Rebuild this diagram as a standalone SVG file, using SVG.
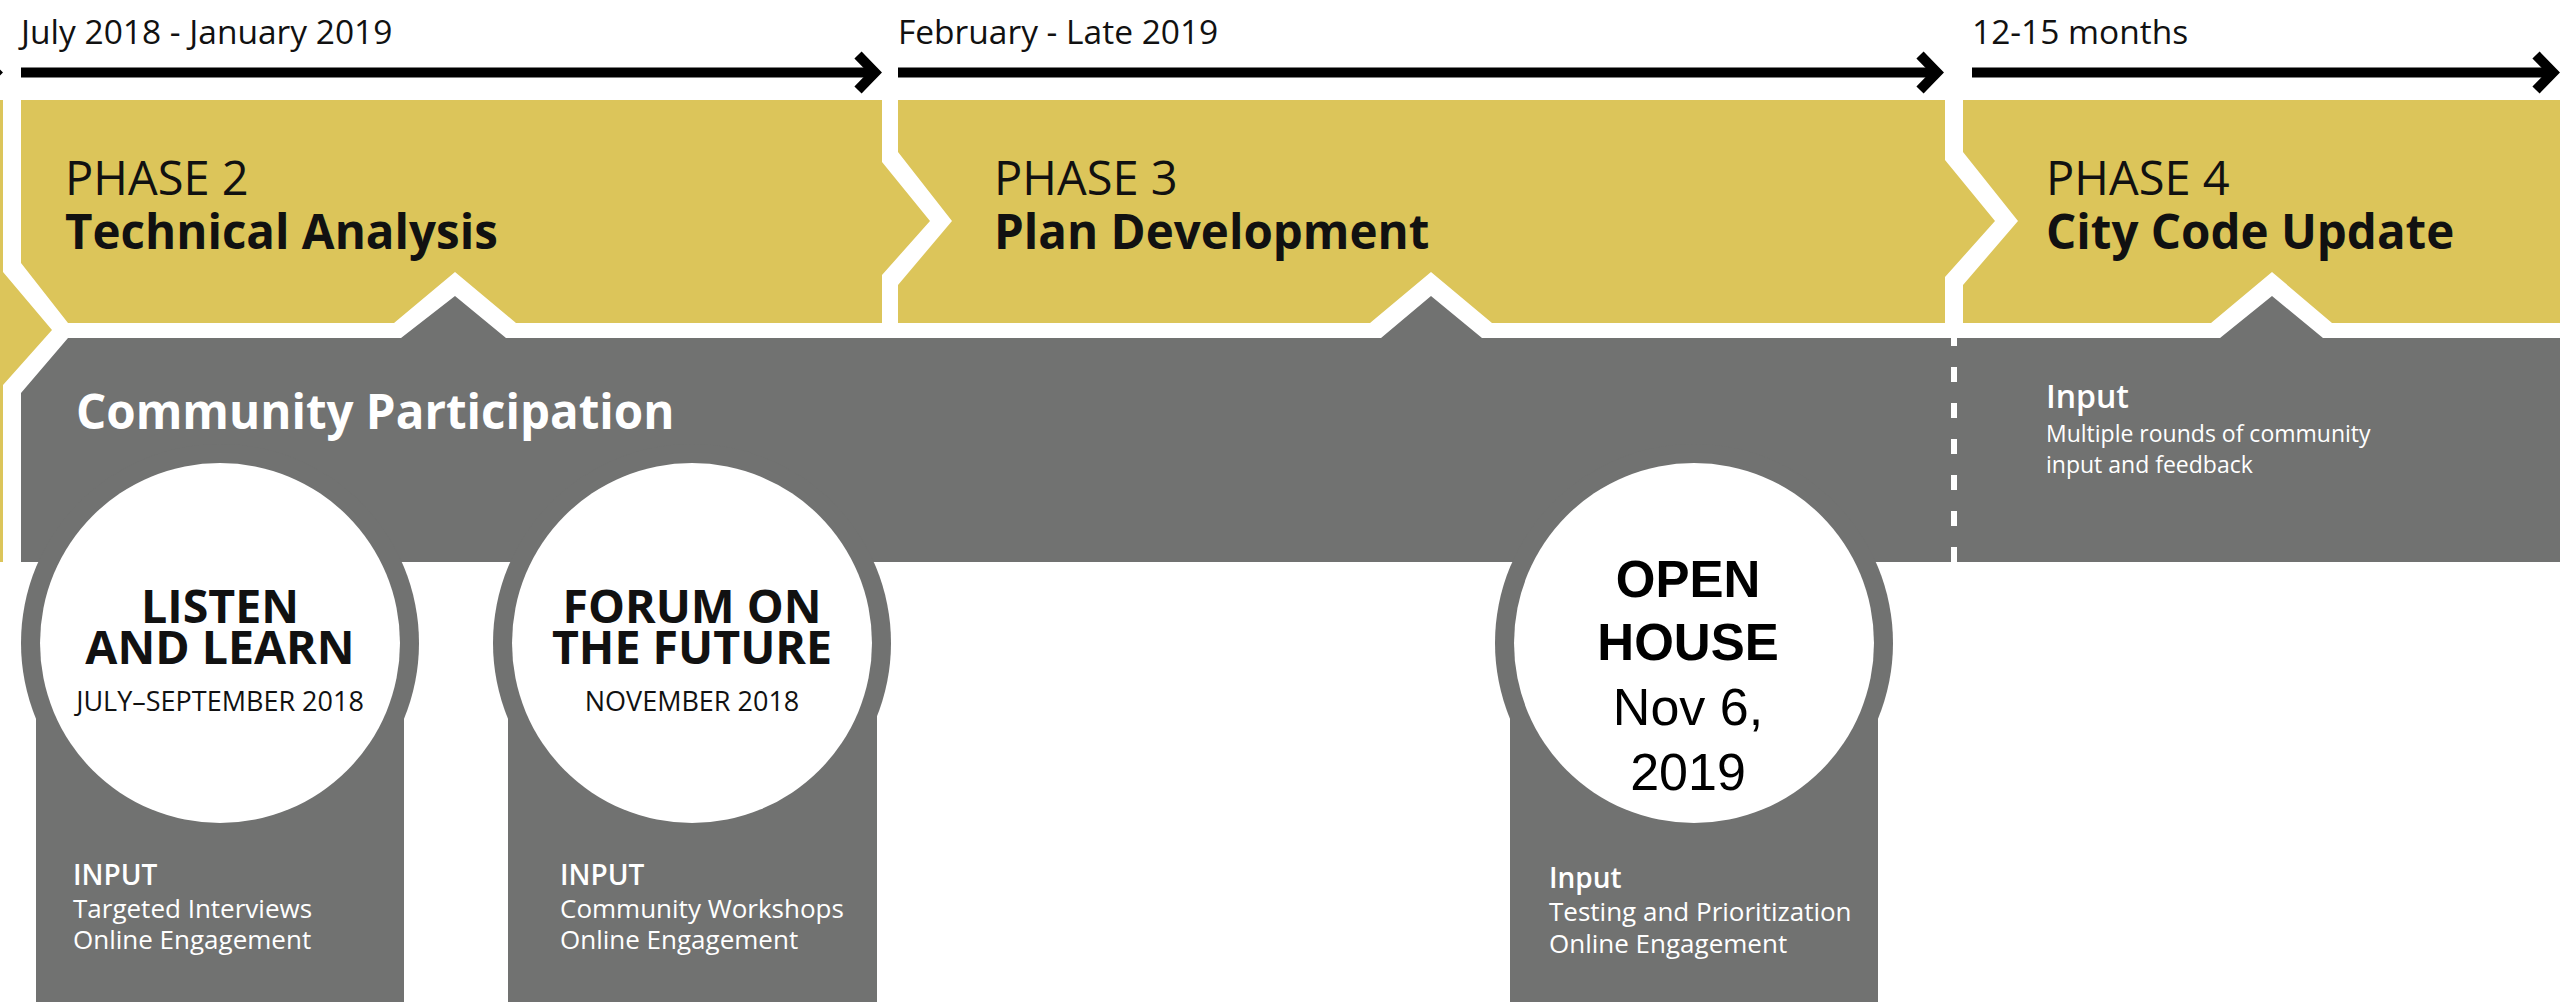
<svg xmlns="http://www.w3.org/2000/svg" width="2560" height="1002" viewBox="0 0 2560 1002">
  <style>
    .phase { fill: #dcc55a; }
    .band { fill: #717271; }
    .ring { fill: #717271; }
    .hole { fill: #ffffff; }
    .date { font-family: "Open Sans", "Liberation Sans", sans-serif; font-size: 33.5px; fill: #111; }
    .ph { font-family: "Open Sans", "Liberation Sans", sans-serif; font-size: 47px; fill: #111; }
    .ph-b { font-family: "Open Sans", "Liberation Sans", sans-serif; font-size: 47.5px; font-weight: 700; fill: #111; }
    .cp { font-family: "Open Sans", "Liberation Sans", sans-serif; font-size: 47.5px; font-weight: 700; fill: #fff; }
    .ev { font-family: "Open Sans", "Liberation Sans", sans-serif; font-size: 46.5px; font-weight: 700; fill: #111; text-anchor: middle; }
    .ev-d { font-family: "Open Sans", "Liberation Sans", sans-serif; font-size: 27px; fill: #111; text-anchor: middle; }
    .oh-b { font-family: "Liberation Sans", Arial, sans-serif; font-size: 51px; font-weight: 700; fill: #000; text-anchor: middle; }
    .oh { font-family: "Liberation Sans", Arial, sans-serif; font-size: 52px; fill: #000; text-anchor: middle; }
    .in-h { font-family: "Open Sans", "Liberation Sans", sans-serif; font-size: 28px; font-weight: 600; fill: #fff; }
    .in { font-family: "Open Sans", "Liberation Sans", sans-serif; font-size: 26px; fill: #fff; }
    .in4-h { font-family: "Open Sans", "Liberation Sans", sans-serif; font-size: 32px; font-weight: 600; fill: #fff; }
    .in4 { font-family: "Open Sans", "Liberation Sans", sans-serif; font-size: 23px; fill: #fff; }
    .timeline { stroke: #000; stroke-width: 10; fill: none; marker-end: url(#chev); }
    .divider { stroke: #fff; stroke-width: 6; stroke-dasharray: 15 21; stroke-dashoffset: 7; fill: none; }
  </style>
  <defs>
    <marker id="chev" markerUnits="userSpaceOnUse" markerWidth="40" markerHeight="50" refX="22" refY="25" orient="auto" overflow="visible">
      <path d="M6,7.5 L23,25 L6,42.5" fill="none" stroke="#000" stroke-width="10" stroke-linejoin="miter"/>
    </marker>
  </defs>

  <rect width="2560" height="1002" fill="#ffffff"/>

  <!-- timeline arrows -->
  <g id="connectors">
    <path class="timeline" d="M-60,72.5 H-5"/>
    <path class="timeline" d="M21,72.5 H874"/>
    <path class="timeline" d="M898,72.5 H1936"/>
    <path class="timeline" d="M1972,72.5 H2552"/>
  </g>

  <!-- phase blocks -->
  <g id="phase-1">
    <path class="phase" d="M-10,100 H3 V272 L52,330 L3,385 V562 H-10 Z"/>
  </g>

  <g id="phase-2">
    <path class="phase" d="M21,100 H882 V162 L930,221 L882,275 V323 H516 L455,272 L394,323 H68 L21,263 Z"/>
    <text class="date" x="21" y="44">July 2018 - January 2019</text>
    <text class="ph" x="65" y="195">PHASE 2</text>
    <text class="ph-b" x="65" y="249">Technical Analysis</text>
  </g>

  <g id="phase-3">
    <path class="phase" d="M898,100 H1945 V160 L1995,221 L1945,277 V323 H1492 L1431,272 L1370,323 H898 V285 L952,221 L898,152 Z"/>
    <text class="date" x="898" y="44">February - Late 2019</text>
    <text class="ph" x="994" y="195">PHASE 3</text>
    <text class="ph-b" x="994" y="249">Plan Development</text>
  </g>

  <g id="phase-4">
    <path class="phase" d="M1963,100 H2570 V323 H2332 L2272,272 L2211,323 H1963 V285 L2018,221 L1963,152 Z"/>
    <text class="date" x="1972" y="44">12-15 months</text>
    <text class="ph" x="2046" y="195">PHASE 4</text>
    <text class="ph-b" x="2046" y="249">City Code Update</text>
  </g>

  <!-- community participation band -->
  <g id="community-participation">
    <path class="band" d="M68,338 H401 L455,296 L506,338 H1381 L1431,296 L1482,338 H2220 L2272,296 L2323,338 H2570 V562 H21 V393 Z"/>
    <line class="divider" x1="1954" y1="338" x2="1954" y2="562"/>
    <text class="cp" x="76" y="429">Community Participation</text>
    <text class="in4-h" x="2046" y="408">Input</text>
    <text class="in4" x="2046" y="442">Multiple rounds of community</text>
    <text class="in4" x="2046" y="473">input and feedback</text>
  </g>

  <!-- events -->
  <g id="listen-and-learn">
    <circle class="ring" cx="220" cy="643" r="199"/>
    <rect class="ring" x="36" y="643" width="368" height="360"/>
    <circle class="hole" cx="220" cy="643" r="180"/>
    <text class="ev" x="220" y="623">LISTEN</text>
    <text class="ev" x="220" y="664">AND LEARN</text>
    <text class="ev-d" x="220" y="711">JULY–SEPTEMBER 2018</text>
    <text class="in-h" x="73" y="885">INPUT</text>
    <text class="in" x="73" y="918">Targeted Interviews</text>
    <text class="in" x="73" y="949">Online Engagement</text>
  </g>

  <g id="forum-on-the-future">
    <circle class="ring" cx="692" cy="643" r="199"/>
    <rect class="ring" x="508" y="643" width="369" height="360"/>
    <circle class="hole" cx="692" cy="643" r="180"/>
    <text class="ev" x="692" y="623">FORUM ON</text>
    <text class="ev" x="692" y="664">THE FUTURE</text>
    <text class="ev-d" x="692" y="711">NOVEMBER 2018</text>
    <text class="in-h" x="560" y="885">INPUT</text>
    <text class="in" x="560" y="918">Community Workshops</text>
    <text class="in" x="560" y="949">Online Engagement</text>
  </g>

  <g id="open-house">
    <circle class="ring" cx="1694" cy="643" r="199"/>
    <rect class="ring" x="1510" y="643" width="368" height="360"/>
    <circle class="hole" cx="1694" cy="643" r="180"/>
    <text class="oh-b" x="1688" y="597">OPEN</text>
    <text class="oh-b" x="1688" y="660">HOUSE</text>
    <text class="oh" x="1688" y="725">Nov 6,</text>
    <text class="oh" x="1688" y="790">2019</text>
    <text class="in-h" x="1549" y="888">Input</text>
    <text class="in" x="1549" y="921">Testing and Prioritization</text>
    <text class="in" x="1549" y="953">Online Engagement</text>
  </g>
</svg>
